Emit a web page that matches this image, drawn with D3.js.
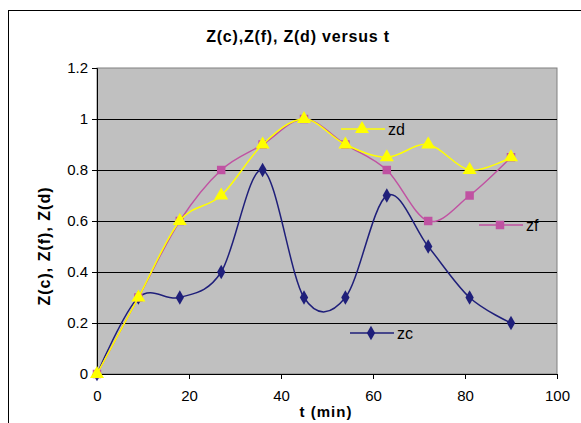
<!DOCTYPE html>
<html>
<head>
<meta charset="utf-8">
<script src="https://cdn.jsdelivr.net/npm/d3@7"></script>
<style>
  body { margin: 0; background: #fff; }
  text { font-family: "Liberation Sans", Arial, sans-serif; }
</style>
</head>
<body>
<svg width="581" height="423"></svg>
<script>
var tValues = [0, 9, 18, 27, 36, 45, 54, 63, 72, 81, 90];
var zc = [0, 0.3, 0.3, 0.4, 0.8, 0.3, 0.3, 0.7, 0.5, 0.3, 0.2];
var zf = [0, 0.3, 0.6, 0.8, 0.9, 1.0, 0.9, 0.8, 0.6, 0.7, 0.85];
var zd = [0, 0.3, 0.6, 0.7, 0.9, 1.0, 0.9, 0.85, 0.9, 0.8, 0.85];
var xTicks = [0, 20, 40, 60, 80, 100];
var yTicks = [0, 0.2, 0.4, 0.6, 0.8, 1, 1.2];

var svg = d3.select("svg");

// outer chart frame (runs off the right/bottom edge)
svg.append("rect")
    .attr("x", 8.5).attr("y", 10.5)
    .attr("width", 600).attr("height", 440)
    .attr("fill", "#fff")
    .attr("stroke", "#000");

var plotLeft = 97, plotRight = 557, plotTop = 68, plotBottom = 374;

var x = d3.scaleLinear().domain([0, 100]).range([plotLeft, plotRight]);
var y = d3.scaleLinear().domain([0, 1.2]).range([plotBottom, plotTop]);

// plot area
svg.append("rect")
    .attr("x", plotLeft).attr("y", plotTop)
    .attr("width", plotRight - plotLeft).attr("height", plotBottom - plotTop)
    .attr("fill", "#c0c0c0")
    .attr("stroke", "#808080");

// gridlines
svg.append("g").selectAll("line")
    .data(yTicks.slice(1, -1))
    .enter().append("line")
    .attr("x1", plotLeft).attr("x2", plotRight)
    .attr("y1", function (d) { return Math.round(y(d)) + 0.5; })
    .attr("y2", function (d) { return Math.round(y(d)) + 0.5; })
    .attr("stroke", "#000");

var xAxis = d3.axisBottom(x).tickValues(xTicks).tickSize(5).tickPadding(11);
var yAxis = d3.axisLeft(y).tickValues(yTicks).tickSize(5).tickPadding(4)
    .tickFormat(function (d) { return String(+d.toFixed(1)); });

function styleAxis(g) {
    g.selectAll("text").attr("font-size", 15).attr("fill", "#000")
        .attr("font-family", "Liberation Sans, Arial, sans-serif");
    g.selectAll("line, path").attr("stroke", "#000");
}

svg.append("g")
    .attr("transform", "translate(0," + plotBottom + ")")
    .call(xAxis)
    .call(styleAxis);

svg.append("g")
    .attr("transform", "translate(" + plotLeft + ",0)")
    .call(yAxis)
    .call(styleAxis);

// titles
svg.append("text")
    .attr("x", 298).attr("y", 42)
    .attr("text-anchor", "middle")
    .attr("font-size", 16).attr("font-weight", "bold")
    .attr("letter-spacing", 0.8)
    .text("Z(c),Z(f), Z(d) versus t");

svg.append("text")
    .attr("x", 326).attr("y", 417)
    .attr("text-anchor", "middle")
    .attr("font-size", 15).attr("font-weight", "bold")
    .attr("letter-spacing", 1)
    .text("t (min)");

svg.append("text")
    .attr("transform", "translate(50,246) rotate(-90)")
    .attr("text-anchor", "middle")
    .attr("font-size", 16).attr("font-weight", "bold")
    .attr("letter-spacing", 1)
    .text("Z(c), Z(f), Z(d)");

var series = [
    { name: "zc", values: zc, color: "#1f1f7a", shape: d3.symbolDiamond, size: 60, lx: 350, ly: 333 },
    { name: "zf", values: zf, color: "#c052a2", shape: d3.symbolSquare, size: 72, lx: 479, ly: 225 },
    { name: "zd", values: zd, color: "#ffff00", shape: d3.symbolTriangle, size: 85, lx: 341, ly: 129 }
];

var line = d3.line()
    .x(function (d) { return x(d[0]); })
    .y(function (d) { return y(d[1]); })
    .curve(d3.curveCatmullRom.alpha(0));

series.forEach(function (s) {
    var pts = tValues.map(function (t, i) { return [t, s.values[i]]; });
    var g = svg.append("g");
    g.append("path")
        .attr("d", line(pts))
        .attr("fill", "none")
        .attr("stroke", s.color)
        .attr("stroke-width", 1.5);
    g.selectAll("path.pt")
        .data(pts)
        .enter().append("path")
        .attr("class", "pt")
        .attr("transform", function (d) { return "translate(" + x(d[0]) + "," + y(d[1]) + ")"; })
        .attr("d", d3.symbol().type(s.shape).size(s.size))
        .attr("fill", s.color);

    // legend entry
    var lg = svg.append("g").attr("transform", "translate(" + s.lx + "," + s.ly + ")");
    lg.append("line").attr("x1", 0).attr("x2", 44)
        .attr("stroke", s.color).attr("stroke-width", 1.5);
    lg.append("path").attr("transform", "translate(21,0)")
        .attr("d", d3.symbol().type(s.shape).size(s.size))
        .attr("fill", s.color);
    lg.append("text").attr("x", 47).attr("y", 6)
        .attr("font-size", 16)
        .text(s.name);
});
</script>
</body>
</html>
